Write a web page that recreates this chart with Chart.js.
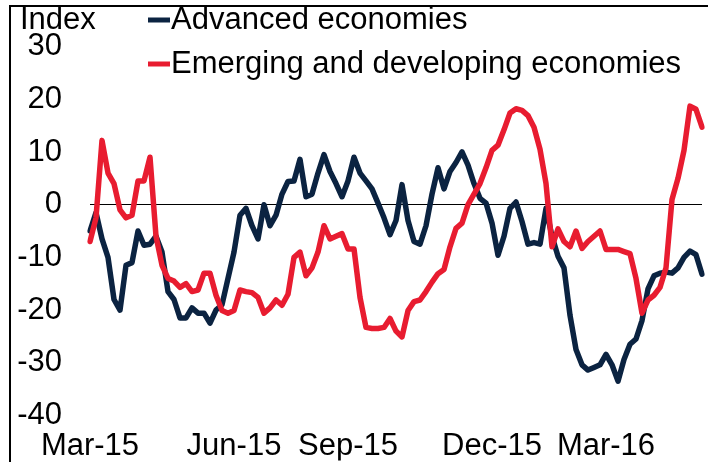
<!DOCTYPE html>
<html>
<head>
<meta charset="utf-8">
<script src="https://cdn.jsdelivr.net/npm/chart.js@4.4.1/dist/chart.umd.min.js"></script>
<style>
  body { margin: 0; background: #fff; }
  #wrap { position: relative; width: 708px; height: 462px; }
  #canvas { position: absolute; left: 0; top: 0; }
  #frame { position: absolute; left: 9px; top: 5px; right: 0; bottom: 0;
           border-left: 2px solid #000; border-top: 2px solid #000; pointer-events: none; }
</style>
</head>
<body>
<div id="wrap">
  <canvas id="canvas" width="708" height="462"></canvas>
  <div id="frame"></div>
</div>
<script>
// index values, sampled evenly from Mar-15 to mid May-16
const advanced = [
  -5, -1.5, -6.5, -10, -18, -20, -11.5, -11, -5, -7.7,
  -7.5, -6, -9, -16.5, -18, -21.5, -21.5, -19.6, -20.6, -20.6,
  -22.5, -20, -19, -14, -9, -2, -0.7, -4, -6.5, 0,
  -4, -2, 2, 4.4, 4.5, 8.6, 1.5, 2, 6, 9.5,
  6.3, 4, 1.5, 4.5, 9, 6, 4.5, 3, 0.3, -2.5,
  -5.7, -3, 3.8, -3, -7, -7.5, -4, 2, 7, 3,
  6.3, 8, 10, 7.5, 4, 1.2, 0.3, -3.5, -9.6, -6,
  -0.7, 0.5, -3.2, -7.5, -7.2, -7.5, -0.7, -6, -9.8, -12,
  -21, -27.5, -30.4, -31.4, -30.9, -30.4, -28.4, -30.4, -33.5, -29.4,
  -26.5, -25.5, -22, -16, -13.5, -13, -12.8, -13, -12, -10,
  -8.8, -9.5, -13.2
];
const emerging = [
  -7, -2.5, 12.2, 6, 4, -1, -2.5, -2, 4.5, 4.5,
  9, -6, -11.5, -14, -14.5, -15.7, -15, -16.5, -16.2, -13,
  -13, -17.2, -20.1, -20.6, -20.1, -16.2, -16.5, -16.7, -17.6, -20.6,
  -19.6, -18.1, -19.1, -17, -10, -9, -13.5, -12, -9, -4,
  -6.5, -6, -5.5, -8.4, -8.4, -17.6, -23.3, -23.5, -23.5, -23.3,
  -21.6, -24, -25.1, -20.1, -18.4, -18.1, -16.5, -14.7, -13.1, -12.3,
  -8, -4.5, -3.5, 0, 2, 4, 7, 10.3, 11.3, 14.2,
  17.4, 18.2, 17.9, 16.9, 14.7, 10.5, 4, -8, -4.6, -7,
  -8, -5, -8.3, -7, -6, -5, -8.5, -8.5, -8.5, -8.9,
  -9.3, -14, -20.6, -18.1, -17.2, -15.7, -12, 1, 5, 10.3,
  18.7, 18.1, 14.7
];
const tickLabels = ['Mar-15', 'Jun-15', 'Sep-15', 'Dec-15', 'Mar-16'];
const tickIndex = [0, 24, 43, 67, 86];
const unitLabel = 'Index';

const FAMILY = "'Liberation Sans', Arial, sans-serif";
const FONT = '31px ' + FAMILY;

let labels = advanced.map(() => '');
tickIndex.forEach((k, i) => { labels[k] = tickLabels[i]; });

// legend drawn by hand: short line then the name, one per row
const legendLines = {
  id: 'legendLines',
  afterDraw(chart) {
    let c = chart.ctx;
    c.save();
    c.font = FONT;
    c.fillStyle = '#000';
    c.textBaseline = 'alphabetic';
    c.fillText(unitLabel, 20, 29);
    chart.data.datasets.forEach((ds, i) => {
      let y = 29 + i * 44;
      c.strokeStyle = ds.borderColor;
      c.lineWidth = 5;
      c.beginPath();
      c.moveTo(148, y - 9);
      c.lineTo(170, y - 9);
      c.stroke();
      c.fillText(ds.label, 171, y);
    });
    c.restore();
  }
};

let ctx = document.getElementById('canvas').getContext('2d');
let chart = new Chart(ctx, {
  type: 'line',
  data: {
    labels: labels,
    datasets: [
      { label: 'Advanced economies', data: advanced, borderColor: '#0b2341',
        borderWidth: 5.5, pointRadius: 0, tension: 0, order: 1,
        borderJoinStyle: 'round', borderCapStyle: 'round' },
      { label: 'Emerging and developing economies', data: emerging, borderColor: '#e81c30',
        borderWidth: 5.5, pointRadius: 0, tension: 0, order: 0,
        borderJoinStyle: 'round', borderCapStyle: 'round' }
    ]
  },
  options: {
    responsive: false,
    animation: false,
    layout: { padding: { left: 0, top: 44, right: 6, bottom: 0 } },
    plugins: { legend: { display: false }, tooltip: { enabled: false } },
    scales: {
      x: {
        offset: false,
        grid: { display: false },
        border: { display: false },
        ticks: { autoSkip: false, maxRotation: 0, padding: 4, color: '#000',
                 font: { family: FAMILY, size: 31 } },
        afterFit: (s) => { s.height = 45; }
      },
      y: {
        min: -40, max: 30,
        grid: { drawTicks: false, lineWidth: 1,
                color: (c) => c.tick && c.tick.value === 0 ? '#000' : 'rgba(0,0,0,0)' },
        border: { display: false },
        ticks: { stepSize: 10, padding: 28, color: '#000',
                 font: { family: FAMILY, size: 31 } },
        afterFit: (s) => { s.width = 90; }
      }
    }
  },
  plugins: [legendLines]
});
</script>
</body>
</html>
